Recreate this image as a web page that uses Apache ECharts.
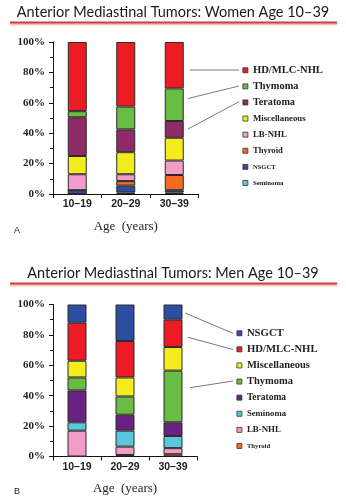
<!DOCTYPE html>
<html>
<head>
<meta charset="utf-8">
<script src="https://cdn.jsdelivr.net/npm/echarts@6/dist/echarts.min.js"></script>
<style>
  html, body { margin: 0; padding: 0; background: #fff; }
  #main { width: 346px; height: 500px; }
</style>
</head>
<body>
<div id="main"></div>
<script>
// Age groups shared by both panels
const ageGroups = ['10–19', '20–29', '30–39'];
const yTicks = [0, 20, 40, 60, 80, 100];

// Panel A: women, percentage of tumours per age group
const womenSeminoma = [0, 1, 1];
const womenNSGCT    = [2.5, 4.5, 1.5];
const womenThyroid  = [0, 3, 10];
const womenLBNHL    = [10.5, 4.5, 9.5];
const womenMisc     = [12, 14.5, 15];
const womenTeratoma = [25.5, 15, 11];
const womenThymoma  = [4, 15, 21.5];
const womenHD       = [45.5, 42.5, 30.5];

// Panel B: men, percentage of tumours per age group
const menThyroid  = [0, 1, 1.5];
const menLBNHL    = [17, 5.5, 4];
const menSeminoma = [5.5, 10.5, 8];
const menTeratoma = [21, 10.5, 9];
const menThymoma  = [8.5, 12, 34];
const menMisc     = [11, 12.5, 15.5];
const menHD       = [25, 24, 18];
const menNSGCT    = [12, 24, 10];

const C = {
  hd: '#ED1C24', thymoma: '#69BD45', teratomaW: '#8F2B68', teratomaM: '#6A2182',
  misc: '#F5EC1E', lbnhl: '#F49CC8', thyroid: '#F26A23', nsgct: '#2C4DA0', seminoma: '#5CC6DC'
};

const chart = echarts.init(document.getElementById('main'), null, { renderer: 'canvas' });

function bars(name, data, color, stack, idx) {
  return {
    type: 'bar', name, data, stack,
    xAxisIndex: idx, yAxisIndex: idx,
    barWidth: 19,
    itemStyle: { color, borderColor: '#2a2a2a', borderWidth: 1 },
    emphasis: { disabled: true },
    animation: false
  };
}

function legendItem(name, color, size) {
  return {
    name,
    itemStyle: { color, borderColor: '#333', borderWidth: 0.8 },
    textStyle: { fontSize: size, lineHeight: 16.1 }
  };
}

const legendText = { fontFamily: 'Liberation Serif, Times New Roman, serif', fontWeight: 'bold', color: '#222' };

function yAxis(idx) {
  return {
    type: 'value', gridIndex: idx, min: 0, max: 100, interval: 20,
    axisLine: { show: true, lineStyle: { color: '#111', width: 1 } },
    axisTick: { show: true, length: 4, lineStyle: { color: '#111' } },
    minorTick: { show: true, splitNumber: 2, length: 3, lineStyle: { color: '#111' } },
    splitLine: { show: false },
    axisLabel: {
      margin: 8, fontSize: 11, fontWeight: 'bold', color: '#222',
      fontFamily: 'Liberation Serif, Times New Roman, serif',
      formatter: v => yTicks.includes(v) ? v + '%' : ''
    }
  };
}

function xAxis(idx) {
  return {
    type: 'category', gridIndex: idx, data: ageGroups,
    axisLine: { lineStyle: { color: '#111', width: 1 } },
    axisTick: { show: true, length: 4, alignWithLabel: false, lineStyle: { color: '#111' } },
    axisLabel: {
      margin: 5, fontSize: 10.5, fontWeight: 'bold', color: '#222',
      fontFamily: 'Liberation Sans Narrow, Arial Narrow, Liberation Sans, sans-serif'
    },
    name: 'Age  (years)', nameLocation: 'middle', nameGap: 26,
    nameTextStyle: { fontSize: 13, color: '#222', fontFamily: 'Liberation Serif, Times New Roman, serif' }
  };
}

function rule(y) {
  return {
    type: 'line', silent: true,
    shape: { x1: 10, y1: y, x2: 337, y2: y },
    style: { stroke: '#D23C3C', lineWidth: 2, shadowColor: 'rgba(200,60,60,0.45)', shadowBlur: 2, shadowOffsetY: 1.5 }
  };
}

function leader(x1, y1, x2, y2) {
  return {
    type: 'line', silent: true,
    shape: { x1, y1, x2, y2 },
    style: { stroke: '#7a7a7a', lineWidth: 1 }
  };
}

const titleStyle = { fontFamily: 'Lato, Open Sans, sans-serif', fontSize: 14.5, fontWeight: 'normal', color: '#1a1a1a' };
const panelStyle = { fontFamily: 'Liberation Sans, Arial, sans-serif', fontSize: 9, fontWeight: 'normal', color: '#222' };

const option = {
  animation: false,
  backgroundColor: '#fff',
  title: [
    { text: 'Anterior Mediastinal Tumors: Women Age 10–39', left: 'center', top: 5, padding: 0, textStyle: titleStyle },
    { text: 'Anterior Mediastinal Tumors: Men Age 10–39', left: 'center', top: 265.5, padding: 0, textStyle: titleStyle },
    { text: 'A', left: 9, top: 221, textStyle: panelStyle },
    { text: 'B', left: 9, top: 482, textStyle: panelStyle }
  ],
  grid: [
    { left: 53, top: 42, width: 145.5, height: 152 },
    { left: 53, top: 304.5, width: 144, height: 152 }
  ],
  xAxis: [xAxis(0), xAxis(1)],
  yAxis: [yAxis(0), yAxis(1)],
  legend: [
    {
      orient: 'vertical', left: 242.5, top: 62.2, padding: 0, itemWidth: 5, itemHeight: 5, itemGap: 0,
      icon: 'rect', selectedMode: false, textStyle: legendText,
      data: [
        legendItem('HD/MLC-NHL', C.hd, 10.6),
        legendItem('Thymoma', C.thymoma, 10.4),
        legendItem('Teratoma', C.teratomaW, 10.2),
        legendItem('Miscellaneous', C.misc, 8.8),
        legendItem('LB-NHL', C.lbnhl, 8.9),
        legendItem('Thyroid', C.thyroid, 8.6),
        legendItem('NSGCT', C.nsgct, 6.6),
        legendItem('Seminoma', C.seminoma, 6.8)
      ]
    },
    {
      orient: 'vertical', left: 236.5, top: 325.2, padding: 0, itemWidth: 5, itemHeight: 5, itemGap: 0,
      icon: 'rect', selectedMode: false, textStyle: legendText,
      data: [
        legendItem('NSGCT', C.nsgct, 10.7),
        legendItem('HD/MLC-NHL', C.hd, 10.7),
        legendItem('Miscellaneous', C.misc, 10.5),
        legendItem('Thymoma', C.thymoma, 10.5),
        legendItem('Teratoma', C.teratomaM, 9.5),
        legendItem('Seminoma', C.seminoma, 8.7),
        legendItem('LB-NHL', C.lbnhl, 8.9),
        legendItem('Thyroid', C.thyroid, 6.7)
      ]
    }
  ],
  graphic: [
    rule(22.5),
    rule(283.5),
    leader(190, 70, 239, 70),
    leader(188, 98.5, 239, 86),
    leader(188, 129, 239, 101.7),
    leader(185, 313, 233, 333.3),
    leader(188, 337.3, 233, 349.5),
    leader(190, 387.7, 233, 381)
  ],
  series: [
    bars('Seminoma', womenSeminoma, C.seminoma, 'women', 0),
    bars('NSGCT', womenNSGCT, C.nsgct, 'women', 0),
    bars('Thyroid', womenThyroid, C.thyroid, 'women', 0),
    bars('LB-NHL', womenLBNHL, C.lbnhl, 'women', 0),
    bars('Miscellaneous', womenMisc, C.misc, 'women', 0),
    bars('Teratoma', womenTeratoma, C.teratomaW, 'women', 0),
    bars('Thymoma', womenThymoma, C.thymoma, 'women', 0),
    bars('HD/MLC-NHL', womenHD, C.hd, 'women', 0),

    bars('Thyroid', menThyroid, C.thyroid, 'men', 1),
    bars('LB-NHL', menLBNHL, C.lbnhl, 'men', 1),
    bars('Seminoma', menSeminoma, C.seminoma, 'men', 1),
    bars('Teratoma', menTeratoma, C.teratomaM, 'men', 1),
    bars('Thymoma', menThymoma, C.thymoma, 'men', 1),
    bars('Miscellaneous', menMisc, C.misc, 'men', 1),
    bars('HD/MLC-NHL', menHD, C.hd, 'men', 1),
    bars('NSGCT', menNSGCT, C.nsgct, 'men', 1)
  ]
};

chart.setOption(option);
</script>
</body>
</html>
